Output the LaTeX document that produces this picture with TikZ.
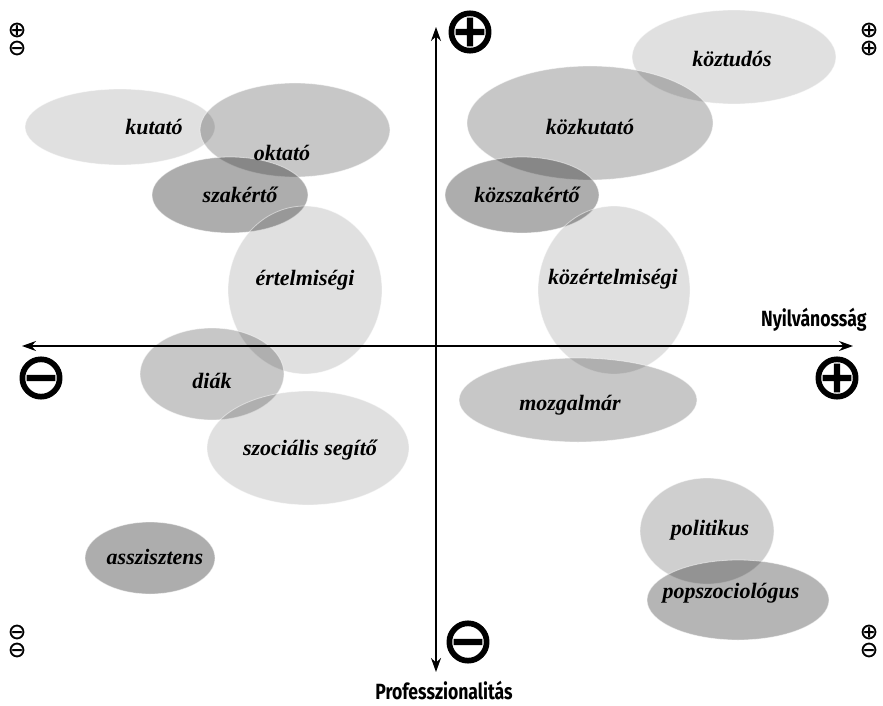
\documentclass[tikz,border=0pt]{standalone}
\usepackage{fontspec}
\usepackage{tikz}
\usetikzlibrary{shapes.geometric,arrows.meta}
\setmainfont{Liberation Serif}
\newfontfamily\axisfont{Fira Sans}[FakeStretch=0.8]
\newfontfamily\bigsignfont{DejaVu Sans}[FakeBold=1.6]
\newfontfamily\smallsignfont{DejaVu Sans}[FakeBold=0.8]
\tikzset{
  blob/.style={ellipse, inner sep=0pt, fill=black, draw=white, line width=0.8pt,
    draw opacity=0.5, text opacity=1},
  pale/.style={blob, fill opacity=0.12},
  mid/.style={blob, fill opacity=0.22},
  deep/.style={blob, fill opacity=0.32},
  role/.style={font=\fontsize{22}{24}\selectfont\bfseries\itshape},
  axislbl/.style={font=\axisfont\fontsize{22}{24}\selectfont\bfseries},
  axis/.style={line width=1.5pt, {Stealth[length=14pt,width=10pt]}-{Stealth[length=14pt,width=10pt]}},
  bigsign/.style={font=\bigsignfont\fontsize{64}{64}\selectfont, inner sep=0pt},
  smallsign/.style={font=\smallsignfont\fontsize{22}{18}\selectfont, inner sep=0pt, align=center}
}
\begin{document}
\begin{tikzpicture}[x=1pt,y=-1pt]
\useasboundingbox (0,0) rectangle (883,706);
% ellipses, left half
\node[pale, minimum width=190, minimum height=76] (kut) at (120,127) {};
\node[mid, minimum width=190, minimum height=94] (okt) at (295,130) {};
\node[deep, minimum width=156, minimum height=76] (szak) at (230,195) {};
\node[pale, minimum width=154, minimum height=168] (ert) at (305,290) {};
\node[mid, minimum width=144, minimum height=92] (diak) at (212,374) {};
\node[pale, minimum width=202, minimum height=114] (szoc) at (308,448) {};
\node[deep, minimum width=130, minimum height=72] (assz) at (150,558) {};
% ellipses, right half
\node[pale, minimum width=204, minimum height=94] (tud) at (734,57) {};
\node[mid, minimum width=246, minimum height=114] (kkut) at (590,123) {};
\node[deep, minimum width=154, minimum height=76] (kszak) at (522,195) {};
\node[pale, minimum width=152, minimum height=168] (kert) at (614,290) {};
\node[mid, minimum width=238, minimum height=84] (mozg) at (578,400) {};
\node[blob, fill opacity=0.19, minimum width=134, minimum height=106] (pol) at (707,531) {};
\node[blob, fill opacity=0.29, minimum width=182, minimum height=80] (pop) at (738,600) {};

% labels
\node[role] (tkut) at (154,127) {kutató};
\node[role] (tokt) at (282,153) {oktató};
\node[role] (tszak) at (240,195) {szakértő};
\node[role] (tert) at (305,280) {értelmiségi};
\node[role] (tdiak) at (212,381) {diák};
\node[role] (tszoc) at (310,450) {szociális segítő};
\node[role] (tassz) at (155,557) {asszisztens};
\node[role] (ttud) at (732,59) {köztudós};
\node[role] (tkkut) at (590,127) {közkutató};
\node[role] (tkszak) at (527,195) {közszakértő};
\node[role] (tkert) at (613,279) {közértelmiségi};
\node[role] (tmozg) at (570,405) {mozgalmár};
\node[role] (tpol) at (710,530) {politikus};
\node[role] (tpop) at (731,593) {popszociológus};

% axes
\coordinate (west) at (22,346);
\coordinate (east) at (853,346);
\coordinate (north) at (436,27);
\coordinate (south) at (436,672);
\draw[axis] (west) -- (east);
\draw[axis] (south) -- (north);
\node[axislbl, anchor=east] (nyil) at (870,320) {Nyilvánosság};
\node[axislbl] (prof) at (444,690) {Professzionalitás};

% signs
\node[bigsign] (ptop) at (470,32) {⊕};
\node[bigsign] (mleft) at (41,378) {⊖};
\node[bigsign] (pright) at (837,378) {⊕};
\node[bigsign] (mbot) at (468,642) {⊖};
\node[smallsign] (tl) at (17,39) {⊕\\⊖};
\node[smallsign] (tr) at (869,39) {⊕\\⊕};
\node[smallsign] (bl) at (17,641) {⊖\\⊖};
\node[smallsign] (br) at (869,641) {⊕\\⊖};
\end{tikzpicture}
\end{document}
